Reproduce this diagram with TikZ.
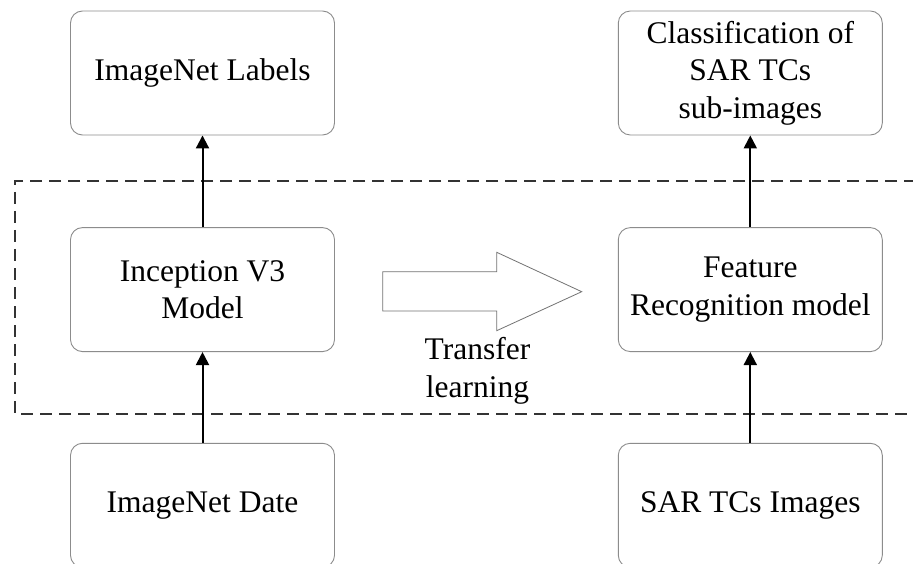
\documentclass[tikz,border=0pt]{standalone}
\usepackage{fontspec}
\setmainfont{Liberation Serif}
\usetikzlibrary{arrows.meta}
\begin{document}
\begin{tikzpicture}[x=1pt,y=-1pt,
  box/.style={draw=black!45, line width=0.9pt, rounded corners=12pt,
    minimum width=264pt, minimum height=124pt, align=center, inner sep=0pt,
    font=\fontsize{31.5}{37.5}\selectfont},
  flow/.style={line width=2pt, -{Triangle[length=13pt,width=13pt]}},
  region/.style={draw=black!80, line width=1.8pt, dash pattern=on 12pt off 7pt},
  bigarrow/.style={draw=black!55, line width=0.8pt, fill=white},
  lbl/.style={align=center, inner sep=0pt, font=\fontsize{31.5}{37.5}\selectfont}
]
\useasboundingbox (0,0) rectangle (913,564);
\clip (0,0) rectangle (913,564);
\fill[white] (0,0) rectangle (913,564);

% dashed region
\draw[region] (935,181) -- (15,181) -- (15,414) -- (935,414);

% boxes
\node[box] (lab) at (202.5,73) {ImageNet Labels};
\node[box] (inc) at (202.5,289.6) {Inception V3\\Model};
\node[box] (dat) at (202.5,505.3) {ImageNet Date};
\node[box] (cls) at (750.3,73) {Classification of\\SAR TCs\\sub-images};
\node[box] (fea) at (750.3,289.6) {Feature\\Recognition model};
\node[box] (sar) at (750.3,505.3) {SAR TCs Images};

% connectors
\draw[flow] (dat) -- (inc);
\draw[flow] (inc) -- (lab);
\draw[flow] (sar) -- (fea);
\draw[flow] (fea) -- (cls);

% transfer arrow
\draw[bigarrow] (382.7,271.7) -- (496.7,271.7) -- (496.7,252.3) -- (581.7,291.7)
  -- (496.7,330.7) -- (496.7,311) -- (382.7,311) -- cycle;
\node[lbl] (tl) at (477.5,371) {Transfer\\learning};
\end{tikzpicture}
\end{document}
